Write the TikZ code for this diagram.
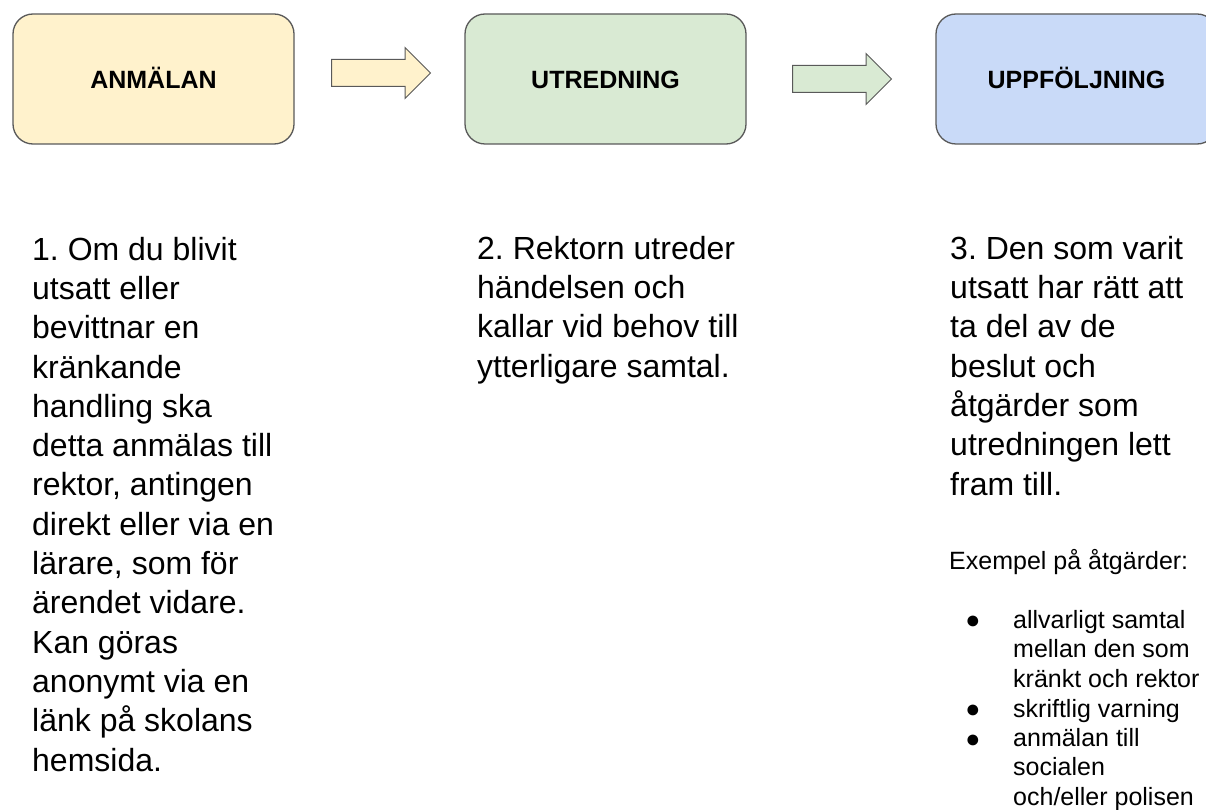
\documentclass[tikz,border=0pt]{standalone}
\usepackage{fontspec}
\setmainfont{Liberation Sans}
\usetikzlibrary{shapes.arrows}
\frenchspacing

\definecolor{anmfill}{HTML}{FFF2CC}
\definecolor{utrfill}{HTML}{D9EAD3}
\definecolor{uppfill}{HTML}{C9DAF8}
\definecolor{edgegray}{HTML}{595959}

\tikzset{
  stagebox/.style={draw=edgegray, line width=1.3pt, rounded corners=20pt,
    minimum width=281pt, minimum height=130pt, inner sep=0pt,
    text height=19pt, text depth=0pt,
    font=\bfseries\fontsize{25}{30}\selectfont},
  blockarrow/.style={draw=edgegray, line width=1pt, single arrow,
    single arrow head extend=12pt, minimum height=99pt, minimum width=50pt,
    inner sep=13pt, anchor=tail},
  % base of these nodes is the baseline of their last line
  steptext/.style={anchor=base west, align=left, inner sep=0pt,
    font=\fontsize{32}{39.3}\selectfont},
  smalltext/.style={anchor=base west, align=left, inner sep=0pt,
    font=\fontsize{25}{29.5}\selectfont},
}

\begin{document}
\begin{tikzpicture}[x=1pt,y=-1pt]

  \clip (0,0) rectangle (1206,810);

  % the three stages
  \node[stagebox, fill=anmfill] (anm) at (153.5,79) {ANMÄLAN};
  \node[stagebox, fill=utrfill] (utr) at (605.5,79) {UTREDNING};
  \node[stagebox, fill=uppfill] (upp) at (1076.5,79) {UPPFÖLJNING};

  \node[blockarrow, fill=anmfill] (pil1) at (331,73) {};
  \node[blockarrow, fill=utrfill] (pil2) at (792,79) {};

  % texts below
  \node[steptext] (txt1) at (32,771)
      {1. Om du blivit\\utsatt eller\\bevittnar en\\kränkande\\handling ska\\detta anmälas till\\rektor, antingen\\direkt eller via en\\lärare, som för\\ärendet vidare.\\Kan göras\\anonymt via en\\länk på skolans\\hemsida.};
  \node[steptext] (txt2) at (477,377)
      {2. Rektorn utreder\\händelsen och\\kallar vid behov till\\ytterligare samtal.};
  \node[steptext] (txt3) at (950,495)
      {3. Den som varit\\utsatt har rätt att\\ta del av de\\beslut och\\åtgärder som\\utredningen lett\\fram till.};

  \node[smalltext] (ex) at (949,569) {Exempel på åtgärder:};

  \node[smalltext, anchor=base] (b1) at (973,628) {●};
  \node[smalltext, anchor=base] (b2) at (973,717) {●};
  \node[smalltext, anchor=base] (b3) at (973,747) {●};
  \node[smalltext] (it1) at (1013,687) {allvarligt samtal\\mellan den som\\kränkt och rektor};
  \node[smalltext] (it2) at (1013,717) {skriftlig varning};
  \node[smalltext] (it3) at (1013,805) {anmälan till\\socialen\\och/eller polisen};

\end{tikzpicture}
\end{document}
